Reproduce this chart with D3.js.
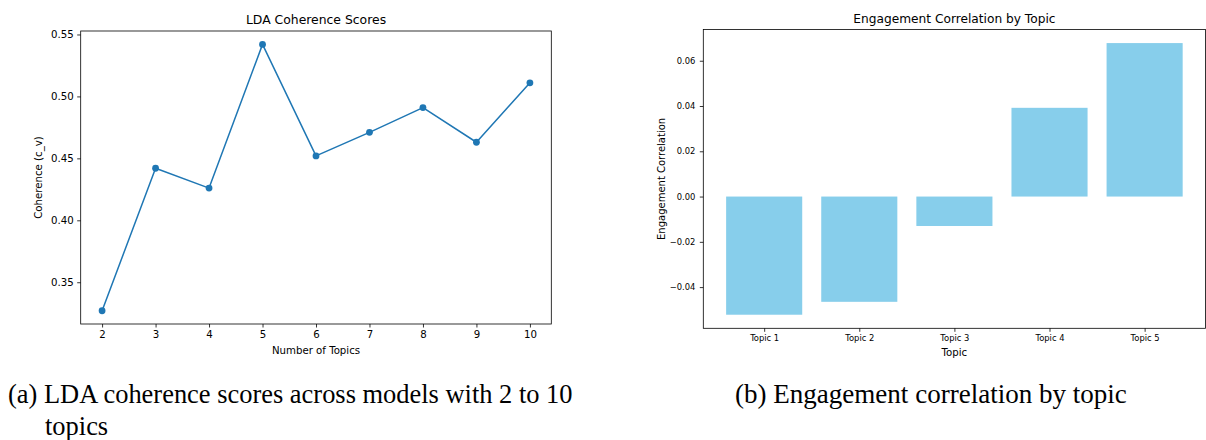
<!DOCTYPE html>
<html>
<head>
<meta charset="utf-8">
<script src="https://cdn.jsdelivr.net/npm/d3@7"></script>
<style>
  html, body { margin: 0; padding: 0; background: #fff; }
  svg { display: block; }
  text { fill: #000; }
</style>
</head>
<body>
<svg id="chart" width="1206" height="440"></svg>
<script>
// ---- Data ----
const numTopics = [2, 3, 4, 5, 6, 7, 8, 9, 10];
const coherence = [0.327, 0.442, 0.426, 0.542, 0.452, 0.471, 0.491, 0.463, 0.511];
const leftYTicks = [0.35, 0.40, 0.45, 0.50, 0.55];

const topicLabels = ["Topic 1", "Topic 2", "Topic 3", "Topic 4", "Topic 5"];
const engagement = [-0.0522, -0.0465, -0.0130, 0.0392, 0.0678];
const rightYTicks = [-0.04, -0.02, 0.00, 0.02, 0.04, 0.06];

const captionA1 = "(a) LDA coherence scores across models with 2 to 10";
const captionA2 = "topics";
const captionB = "(b) Engagement correlation by topic";

const svg = d3.select("#chart");
const sans = "DejaVu Sans, sans-serif";
const serif = "Liberation Serif, Times New Roman, serif";
const fmt = d3.format(".2f");

// ---- Left panel: LDA Coherence Scores ----
const L = {left: 80.7, right: 551.3, top: 31, bottom: 324};
const xL = d3.scaleLinear().domain([1.6, 10.4]).range([L.left, L.right]);
const yL = d3.scaleLinear().domain([0.3163, 0.5528]).range([L.bottom, L.top]);

const gL = svg.append("g");
gL.append("g")
  .attr("transform", `translate(0,${L.bottom})`)
  .call(d3.axisBottom(xL).tickValues(numTopics).tickFormat(d3.format("d")).tickSize(3.5).tickPadding(3.5))
  .call(g => g.select(".domain").remove())
  .call(g => g.selectAll("text").attr("font-family", sans).attr("font-size", 10.2).attr("fill", "#000"))
  .call(g => g.selectAll("line").attr("stroke", "#000").attr("stroke-width", 0.8));
gL.append("g")
  .attr("transform", `translate(${L.left},0)`)
  .call(d3.axisLeft(yL).tickValues(leftYTicks).tickFormat(fmt).tickSize(3.5).tickPadding(3.5))
  .call(g => g.select(".domain").remove())
  .call(g => g.selectAll("text").attr("font-family", sans).attr("font-size", 10.2).attr("fill", "#000"))
  .call(g => g.selectAll("line").attr("stroke", "#000").attr("stroke-width", 0.8));

const line = d3.line().x((d, i) => xL(numTopics[i])).y(d => yL(d));
gL.append("path").datum(coherence)
  .attr("d", line).attr("fill", "none").attr("stroke", "#1f77b4").attr("stroke-width", 1.5)
  .attr("stroke-linejoin", "round").attr("stroke-linecap", "square");
gL.selectAll("circle.pt").data(coherence).join("circle")
  .attr("class", "pt")
  .attr("cx", (d, i) => xL(numTopics[i])).attr("cy", d => yL(d)).attr("r", 3.4)
  .attr("fill", "#1f77b4");

gL.append("rect").attr("x", L.left).attr("y", L.top)
  .attr("width", L.right - L.left).attr("height", L.bottom - L.top)
  .attr("fill", "none").attr("stroke", "#000").attr("stroke-width", 0.8);

gL.append("text").attr("x", (L.left + L.right) / 2).attr("y", 24)
  .attr("text-anchor", "middle").attr("font-family", sans).attr("font-size", 12.4)
  .text("LDA Coherence Scores");
gL.append("text").attr("x", (L.left + L.right) / 2).attr("y", 354)
  .attr("text-anchor", "middle").attr("font-family", sans).attr("font-size", 10.2)
  .text("Number of Topics");
gL.append("text").attr("transform", `translate(42,${(L.top + L.bottom) / 2}) rotate(-90)`)
  .attr("text-anchor", "middle").attr("font-family", sans).attr("font-size", 10.2)
  .text("Coherence (c_v)");

// ---- Right panel: Engagement Correlation by Topic ----
const R = {left: 703.3, right: 1205.5, top: 29.5, bottom: 328.3};
const xR = d3.scaleLinear().domain([-0.64, 4.64]).range([R.left, R.right]);
const yR = d3.scaleLinear().domain([-0.0582, 0.0738]).range([R.bottom, R.top]);
const idx = topicLabels.map((d, i) => i);

const gR = svg.append("g");
gR.selectAll("rect.bar").data(engagement).join("rect")
  .attr("class", "bar")
  .attr("x", (d, i) => xR(i - 0.4))
  .attr("width", (d, i) => xR(i + 0.4) - xR(i - 0.4))
  .attr("y", d => yR(Math.max(0, d)))
  .attr("height", d => Math.abs(yR(d) - yR(0)))
  .attr("fill", "#87ceeb");

gR.append("g")
  .attr("transform", `translate(0,${R.bottom})`)
  .call(d3.axisBottom(xR).tickValues(idx).tickFormat(i => topicLabels[i]).tickSize(3.5).tickPadding(3.5))
  .call(g => g.select(".domain").remove())
  .call(g => g.selectAll("text").attr("font-family", sans).attr("font-size", 8.4).attr("fill", "#000"))
  .call(g => g.selectAll("line").attr("stroke", "#000").attr("stroke-width", 0.8));
gR.append("g")
  .attr("transform", `translate(${R.left},0)`)
  .call(d3.axisLeft(yR).tickValues(rightYTicks).tickFormat(fmt).tickSize(3.5).tickPadding(4.5))
  .call(g => g.select(".domain").remove())
  .call(g => g.selectAll("text").attr("font-family", sans).attr("font-size", 8.4).attr("fill", "#000"))
  .call(g => g.selectAll("line").attr("stroke", "#000").attr("stroke-width", 0.8));

gR.append("rect").attr("x", R.left).attr("y", R.top)
  .attr("width", R.right - R.left).attr("height", R.bottom - R.top)
  .attr("fill", "none").attr("stroke", "#000").attr("stroke-width", 0.8);

gR.append("text").attr("x", (R.left + R.right) / 2).attr("y", 23)
  .attr("text-anchor", "middle").attr("font-family", sans).attr("font-size", 12.2)
  .text("Engagement Correlation by Topic");
gR.append("text").attr("x", (R.left + R.right) / 2).attr("y", 355.5)
  .attr("text-anchor", "middle").attr("font-family", sans).attr("font-size", 10.2)
  .text("Topic");
gR.append("text").attr("transform", `translate(665,${(R.top + R.bottom) / 2}) rotate(-90)`)
  .attr("text-anchor", "middle").attr("font-family", sans).attr("font-size", 10)
  .text("Engagement Correlation");

// ---- Captions ----
const capSize = 22;
function fitText(sel, target) {
  const w = sel.node().getComputedTextLength();
  const f = capSize * target / w;
  sel.attr("font-size", f);
  return f;
}
const c1 = svg.append("text").attr("x", 8).attr("y", 403)
  .attr("font-family", serif).attr("font-size", capSize).text(captionA1);
const fs = fitText(c1, 565);
svg.append("text").attr("x", 45).attr("y", 435)
  .attr("font-family", serif).attr("font-size", fs).text(captionA2);
const cb = svg.append("text").attr("x", 735).attr("y", 403)
  .attr("font-family", serif).attr("font-size", capSize).text(captionB);
fitText(cb, 392);
</script>
</body>
</html>
